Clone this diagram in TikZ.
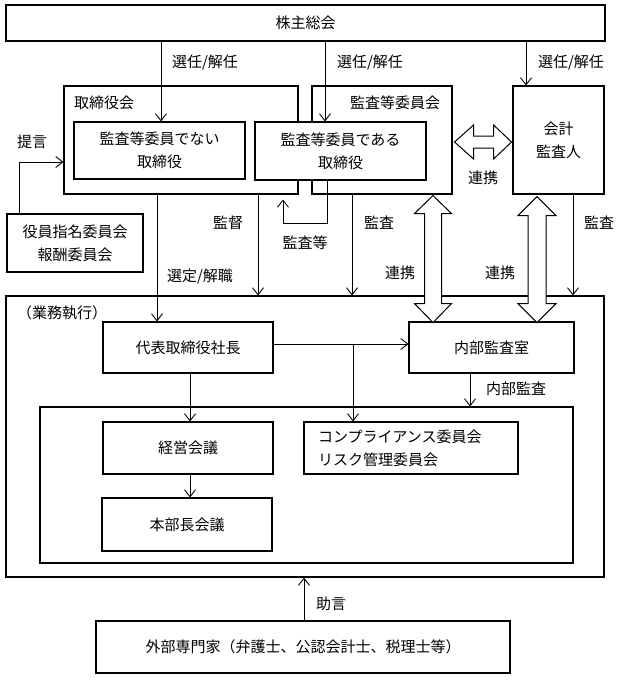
\documentclass[tikz,border=0pt]{standalone}
\usepackage{fontspec}
\setmainfont{Noto Sans CJK JP}
\usetikzlibrary{arrows.meta,calc}
\begin{document}
\begin{tikzpicture}[x=1pt,y=-1pt,
  every node/.style={font=\fontsize{15}{23}\selectfont},
  box/.style={draw,line width=1.1pt,inner sep=0pt,align=center},
  lbl/.style={inner sep=0pt},
  arr/.style={line width=0.9pt,-{Straight Barb[length=7pt,width=11pt,line width=0.9pt]}},
  blk/.style={draw,line width=1pt,fill=white,line join=miter}]
\useasboundingbox (0,0) rectangle (623,680);
% boxes
\node[box,minimum width=599pt,minimum height=36pt] (soukai) at (305.5,23) {株主総会};
\node[box,minimum width=234pt,minimum height=108pt] (torishimari) at (181,140) {};
\node[box,minimum width=140pt,minimum height=108pt] (kansakai) at (382,140) {};
\node[box,minimum width=91pt,minimum height=108pt] (kaikei) at (558.5,140) {会計\\監査人};
\node[box,fill=white,minimum width=171pt,minimum height=57pt] (nai) at (159.5,150.5) {監査等委員でない\\取締役};
\node[box,fill=white,minimum width=171pt,minimum height=58pt] (aru) at (340.5,151) {監査等委員である\\取締役};
\node[box,minimum width=136pt,minimum height=58pt] (yakuin) at (75,243) {役員指名委員会\\報酬委員会};
\node[box,minimum width=598pt,minimum height=281pt] (gyomu) at (305,436.5) {};
\node[box,minimum width=170pt,minimum height=51pt] (daihyo) at (188,347.5) {代表取締役社長};
\node[box,minimum width=165pt,minimum height=51pt] (naibu) at (491.5,347.5) {内部監査室};
\node[box,minimum width=533pt,minimum height=156pt] (inner) at (306.5,485) {};
\node[box,minimum width=170pt,minimum height=52pt] (keiei) at (188,448) {経営会議};
\node[box,minimum width=214pt,minimum height=52pt,text width=186pt,align=left,inner xsep=14pt] (comp) at (411,448) {コンプライアンス委員会\\リスク管理委員会};
\node[box,minimum width=170pt,minimum height=53pt] (honbu) at (187,524.5) {本部長会議};
\node[box,minimum width=414pt,minimum height=52pt] (gaibu) at (303,647) {外部専門家（弁護士、公認会計士、税理士等）};
% labels
\node[lbl] (lsen1) at (205,63) {選任/解任};
\node[lbl] (lsen2) at (370,63) {選任/解任};
\node[lbl] (lsen3) at (571,63) {選任/解任};
\node[lbl] (ltori) at (104,103) {取締役会};
\node[lbl] (lkansa) at (395,103) {監査等委員会};
\node[lbl] (ltei) at (32,142) {提言};
\node[lbl] (lkantoku) at (228,223) {監督};
\node[lbl] (lkansato) at (305,243) {監査等};
\node[lbl] (lsentei) at (200,277) {選定/解職};
\node[lbl] (lkansa1) at (379,223) {監査};
\node[lbl] (lkansa2) at (599,223) {監査};
\node[lbl] (lrenkei0) at (483,178) {連携};
\node[lbl] (lrenkei1) at (400,273) {連携};
\node[lbl] (lrenkei2) at (500,273) {連携};
\node[lbl] (lgyomu) at (62,313) {（業務執行）};
\node[lbl] (lnaibu) at (516,389) {内部監査};
\node[lbl] (ljogen) at (331,604) {助言};
% connectors
\draw[arr] (soukai.south -| 161,0) -- (nai.north -| 161,0);
\draw[arr] (soukai.south -| 325,0) -- (aru.north -| 325,0);
\draw[arr] (soukai.south -| 526,0) -- (kaikei.north -| 526,0);
\draw[arr] (yakuin.north -| 19,0) |- (torishimari.west |- 0,162);
\draw[arr] (torishimari.south -| 157,0) -- (daihyo.north -| 157,0);
\draw[arr] (torishimari.south -| 258,0) -- (gyomu.north -| 258,0);
\draw[arr,shorten >=5pt] (aru.south -| 327,0) -- ++(0,43) -| (torishimari.south -| 283,0);
\draw[arr] (kansakai.south -| 352,0) -- (gyomu.north -| 352,0);
\draw[arr] (kaikei.south -| 573,0) -- (gyomu.north -| 573,0);
\draw[arr] (daihyo.east |- 0,344) -- (naibu.west |- 0,344);
\coordinate (branch) at (353,344);
\draw[arr] (branch) -- (comp.north -| branch);
\draw[arr] (daihyo.south -| 190,0) -- (keiei.north -| 190,0);
\draw[arr] (keiei.south -| 190,0) -- (honbu.north -| 190,0);
\draw[arr] (naibu.south -| 470,0) -- (inner.north -| 470,0);
\draw[arr] (gaibu.north -| 304,0) -- (gyomu.south -| 304,0);
% block arrows
\draw[blk] ($(kansakai.east |- 0,142)+(2,0)$) -- ++(19,-17) -- ++(0,11) -- ++(20,0) -- ++(0,-11) -- ++(18,17) -- ++(-18,17) -- ++(0,-11) -- ++(-20,0) -- ++(0,11) -- cycle;
\draw[blk] ($(kansakai.south -| 433,0)+(0,1)$) -- ++(18.5,18) -- ++(-10,0) -- ++(0,90) -- ++(10,0) -- ++(-18.5,19) -- ++(-18.5,-19) -- ++(10,0) -- ++(0,-90) -- ++(-10,0) -- cycle;
\draw[blk] ($(kaikei.south -| 537,0)+(0,2)$) -- ++(19,19) -- ++(-10,0) -- ++(0,88) -- ++(10,0) -- ++(-19,19) -- ++(-19,-19) -- ++(10,0) -- ++(0,-88) -- ++(-10,0) -- cycle;
\end{tikzpicture}
\end{document}
